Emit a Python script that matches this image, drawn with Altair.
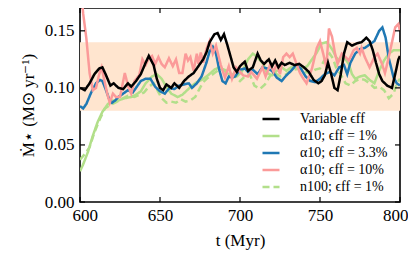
import altair as alt
import pandas as pd

# ---------------- data ----------------
series_names = ["Variable ϵff", "α10; ϵff = 1%", "α10; ϵff = 3.3%", "α10; ϵff = 10%", "n100; ϵff = 1%"]
series_colors = ["#000000", "#b2df8a", "#1f78b4", "#fb9a99", "#b2df8a"]
series_dash = [[1, 0], [1, 0], [1, 0], [1, 0], [7, 4]]

t_var = [600, 603, 606, 609, 612, 614, 616, 619, 621, 624, 627, 630, 632, 635, 638, 641, 643, 646, 648, 650,
         652, 654, 657, 659, 662, 665, 668, 671, 674, 677, 679, 681, 684, 686, 688, 690, 692, 694, 696, 698,
         700, 703, 705, 708, 711, 713, 715, 718, 720, 722, 724, 726, 728, 731, 734, 737, 740, 743, 746, 749,
         751, 753, 755, 757, 759, 761, 763, 765, 767, 770, 773, 776, 779, 781, 783, 785, 787, 789, 792, 795,
         797, 799, 800]
v_var = [0.100, 0.098, 0.104, 0.112, 0.117, 0.118, 0.112, 0.102, 0.104, 0.100, 0.099, 0.104, 0.101, 0.106, 0.112, 0.122, 0.128, 0.120, 0.108, 0.100,
         0.098, 0.103, 0.100, 0.104, 0.100, 0.106, 0.110, 0.113, 0.119, 0.125, 0.131, 0.140, 0.147, 0.148, 0.142, 0.147, 0.138, 0.128, 0.118, 0.114,
         0.119, 0.123, 0.115, 0.118, 0.130, 0.124, 0.121, 0.125, 0.119, 0.124, 0.118, 0.122, 0.120, 0.122, 0.120, 0.121, 0.118, 0.114, 0.107, 0.104,
         0.106, 0.111, 0.122, 0.112, 0.100, 0.098, 0.112, 0.130, 0.140, 0.137, 0.139, 0.140, 0.144, 0.141, 0.133, 0.122, 0.112, 0.106, 0.102, 0.100,
         0.112, 0.125, 0.128]

t_a1 = [600, 602, 605, 608, 611, 614, 617.5, 620.6, 624, 628, 632, 635, 638, 641, 645, 648, 651, 654, 657, 661,
        664, 667, 670, 673, 676, 680, 684, 687, 690, 694, 698, 701, 703, 705, 708, 710, 714, 717, 720, 723,
        726, 729, 732, 735.6, 738.6, 742, 745, 748, 751, 754, 756, 758, 760, 762, 764, 766, 768, 770, 772, 775,
        778, 781, 784, 787, 790, 793, 796, 800]
v_a1 = [0.027, 0.033, 0.044, 0.058, 0.070, 0.079, 0.086, 0.089, 0.089, 0.091, 0.092, 0.094, 0.097, 0.104, 0.110, 0.112, 0.108, 0.101, 0.095, 0.092,
        0.094, 0.098, 0.102, 0.105, 0.107, 0.111, 0.116, 0.118, 0.115, 0.111, 0.110, 0.114, 0.119, 0.125, 0.130, 0.128, 0.122, 0.113, 0.111, 0.115,
        0.118, 0.115, 0.118, 0.119, 0.117, 0.119, 0.125, 0.131, 0.139, 0.140, 0.137, 0.133, 0.127, 0.124, 0.128, 0.125, 0.121, 0.112, 0.108, 0.110,
        0.111, 0.107, 0.104, 0.115, 0.124, 0.130, 0.133, 0.133]

t_a33 = [600, 602, 604, 607, 610, 612.5, 614, 616, 618, 620, 622, 624, 627, 630, 633, 635, 638, 641, 644, 647,
         650, 653, 656, 659, 662, 665, 668, 670, 673, 676, 679, 681, 683, 685, 687, 689, 691, 693, 695, 697,
         700, 703, 705, 708, 711, 714, 717, 720, 723, 726, 729, 732, 735, 738, 741, 744, 747, 750, 753, 756,
         759, 762, 765, 767, 769, 772, 775, 778, 781, 784, 787, 789, 791, 793, 796, 798, 800]
v_a33 = [0.084, 0.082, 0.086, 0.096, 0.104, 0.107, 0.106, 0.099, 0.091, 0.087, 0.089, 0.092, 0.095, 0.098, 0.096, 0.100, 0.106, 0.108, 0.108, 0.101,
         0.097, 0.095, 0.100, 0.099, 0.102, 0.103, 0.104, 0.100, 0.104, 0.110, 0.122, 0.132, 0.136, 0.130, 0.116, 0.106, 0.104, 0.110, 0.109, 0.110,
         0.116, 0.117, 0.114, 0.116, 0.112, 0.118, 0.117, 0.115, 0.109, 0.106, 0.111, 0.115, 0.120, 0.117, 0.110, 0.106, 0.105, 0.108, 0.112, 0.114,
         0.111, 0.118, 0.120, 0.112, 0.122, 0.130, 0.134, 0.135, 0.138, 0.141, 0.150, 0.153, 0.144, 0.126, 0.109, 0.104, 0.102]

t_a10 = [600, 602, 604, 606, 608, 610, 612, 613.5, 615, 617, 618.6, 620.6, 622.5, 625, 628, 630, 632, 634, 637, 639,
         641, 643, 645, 647, 649, 651, 653, 655.6, 658, 660, 662, 664, 666, 667.5, 669, 671, 673, 674, 675.5, 677,
         679, 681, 683, 685, 688, 690.6, 693, 695, 697.5, 700, 702, 705, 707, 710.6, 714, 716, 719, 721, 723, 725,
         727, 729, 731, 733, 735.6, 737.5, 739.6, 741.6, 745, 748, 750, 752, 754, 755.6, 757.5, 759.4, 761, 763.6, 766, 768,
         771, 773, 775, 776, 778, 781, 784, 786, 788.75, 790.6, 792.5, 795, 797, 799, 800]
v_a10 = [0.195, 0.165, 0.143, 0.113, 0.098, 0.100, 0.112, 0.118, 0.108, 0.095, 0.087, 0.095, 0.092, 0.092, 0.113, 0.102, 0.095, 0.106, 0.111, 0.125,
         0.120, 0.126, 0.128, 0.121, 0.127, 0.121, 0.118, 0.126, 0.119, 0.125, 0.113, 0.113, 0.130, 0.124, 0.127, 0.115, 0.130, 0.121, 0.131, 0.122,
         0.134, 0.141, 0.130, 0.137, 0.120, 0.109, 0.119, 0.108, 0.118, 0.114, 0.111, 0.110, 0.114, 0.108, 0.118, 0.110, 0.121, 0.114, 0.121, 0.112,
         0.127, 0.130, 0.127, 0.130, 0.120, 0.113, 0.108, 0.104, 0.117, 0.135, 0.141, 0.130, 0.118, 0.152, 0.145, 0.130, 0.121, 0.130, 0.127, 0.124,
         0.133, 0.135, 0.130, 0.135, 0.127, 0.118, 0.127, 0.130, 0.121, 0.113, 0.124, 0.140, 0.153, 0.156, 0.150]

t_n100 = [600, 603, 606, 609, 612.5, 615.6, 618.6, 622, 625.6, 630, 634, 637, 640, 643, 646, 648, 651, 654, 657, 660,
          663, 666, 669, 672, 675, 677, 680, 684, 688, 692, 696, 700, 703, 706, 709, 712.5, 715.6, 719, 722, 725,
          728, 731, 734, 737, 740.6, 744, 747, 750, 753, 756, 758, 760, 762.5, 766, 769, 772, 775, 778, 781, 784,
          787, 790, 793, 796, 798, 800]
v_n100 = [0.037, 0.042, 0.048, 0.061, 0.073, 0.082, 0.085, 0.087, 0.090, 0.093, 0.092, 0.094, 0.096, 0.101, 0.104, 0.099, 0.091, 0.087, 0.088, 0.087,
          0.090, 0.088, 0.089, 0.092, 0.100, 0.105, 0.109, 0.113, 0.117, 0.115, 0.111, 0.106, 0.110, 0.112, 0.102, 0.099, 0.103, 0.111, 0.113, 0.110,
          0.111, 0.114, 0.116, 0.117, 0.114, 0.113, 0.116, 0.117, 0.125, 0.130, 0.126, 0.118, 0.113, 0.104, 0.102, 0.106, 0.108, 0.107, 0.104, 0.100,
          0.101, 0.098, 0.091, 0.095, 0.104, 0.108]

band_low = [0.08]
band_high = [0.14]

x_ticks = [600, 650, 700, 750, 800]
y_ticks = [0.00, 0.05, 0.10, 0.15]
x_domain = [600, 800]
y_domain = [0, 0.17]

# ---------------- build table ----------------
# drawing order: greens, blue, pink, black on top
draw_order = [1, 4, 2, 3, 0]
all_t = [t_var, t_a1, t_a33, t_a10, t_n100]
all_v = [v_var, v_a1, v_a33, v_a10, v_n100]
rows = []
for k, idx in enumerate(draw_order):
    for t, v in zip(all_t[idx], all_v[idx]):
        rows.append({"t": t, "v": v, "run": series_names[idx], "ord": k})
df = pd.DataFrame(rows)

W, H = 320, 194
FONT = "Liberation Serif"

xs = alt.Scale(domain=x_domain, nice=False, zero=False, padding=0)
ys = alt.Scale(domain=y_domain, nice=False, zero=False, padding=0)

band = alt.Chart(pd.DataFrame({"lo": band_low, "hi": band_high})).mark_rect(
    color="#ffe5cf", opacity=1
).encode(
    y=alt.Y("lo:Q", scale=ys),
    y2="hi:Q",
)

leg = alt.Legend(title=None, orient="none", legendX=181, legendY=101,
                 symbolType="stroke", symbolSize=289, symbolStrokeWidth=2.5,
                 labelFont=FONT, labelFontSize=14, labelOffset=19,
                 rowPadding=0, padding=0, labelColor="#000")

lines = alt.Chart(df).mark_line(strokeWidth=2.5, clip=True).encode(
    x=alt.X("t:Q", scale=xs,
            axis=alt.Axis(values=x_ticks, title="t (Myr)", format="d", ticks=False, domain=False,
                          grid=False, labelPadding=5, titlePadding=9, labelFlush=True,
                          labelFlushOffset=8, labelOverlap=False)),
    y=alt.Y("v:Q", scale=ys,
            axis=alt.Axis(values=y_ticks, title="Ṁ⋆ (M⊙ yr⁻¹)", format=".2f", ticks=False, domain=False,
                          grid=False, labelPadding=6, titlePadding=7, labelFlush=False, labelOverlap=False)),
    color=alt.Color("run:N", scale=alt.Scale(domain=series_names, range=series_colors), legend=leg),
    strokeDash=alt.StrokeDash("run:N", scale=alt.Scale(domain=series_names, range=series_dash), legend=leg),
    detail="run:N",
    order="ord:Q",
)

tick_len = 5
xt = pd.DataFrame({"t": x_ticks})
yt = pd.DataFrame({"v": y_ticks})
bottom_ticks = alt.Chart(xt).mark_rule(color="black", strokeWidth=1.2).encode(
    x=alt.X("t:Q", scale=xs), y=alt.value(H), y2=alt.value(H - tick_len))
top_ticks = alt.Chart(xt).mark_rule(color="black", strokeWidth=1.2).encode(
    x=alt.X("t:Q", scale=xs), y=alt.value(0), y2=alt.value(tick_len))
left_ticks = alt.Chart(yt).mark_rule(color="black", strokeWidth=1.2).encode(
    y=alt.Y("v:Q", scale=ys), x=alt.value(0), x2=alt.value(tick_len))
right_ticks = alt.Chart(yt).mark_rule(color="black", strokeWidth=1.2).encode(
    y=alt.Y("v:Q", scale=ys), x=alt.value(W), x2=alt.value(W - tick_len))

chart = alt.layer(band, lines, bottom_ticks, top_ticks, left_ticks, right_ticks).properties(
    width=W, height=H,
    autosize=alt.AutoSizeParams(type="none"),
    padding={"left": 72, "top": 0, "right": 8, "bottom": 52},
).configure_view(
    stroke="black", strokeWidth=1.6
).configure_axis(
    labelFont=FONT, labelFontSize=17, labelColor="black",
    titleFont=FONT, titleFontSize=17, titleFontWeight="normal", titleColor="black",
)

chart.save("out.html", embed_options={"renderer": "svg", "actions": False})
